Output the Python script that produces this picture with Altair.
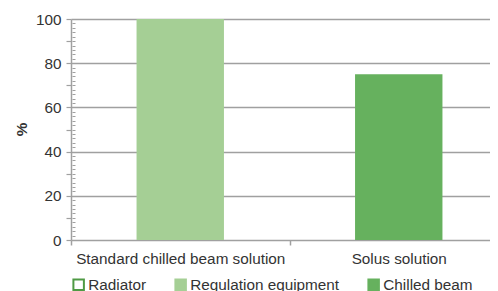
import altair as alt
import pandas as pd

categories = ["Standard chilled beam solution", "Solus solution"]
series = ["Radiator", "Regulation equipment", "Chilled beam"]
radiator = [0, 0]
regulation = [100, 0]
chilled = [0, 75]
y_major = list(range(0, 101, 10))
y_minor = list(range(0, 101, 2))

rows = []
for i, c in enumerate(categories):
    for s, vals in zip(series, [radiator, regulation, chilled]):
        rows.append({"cat": c, "series": s, "value": vals[i]})
df = pd.DataFrame(rows)

FONT = "Liberation Sans"
FS = 15.3
TXT = "#333333"
AXC = "#a0a0a0"

fill_scale = alt.Scale(domain=series, range=["#ffffff", "#a5cf95", "#66b15e"])
stroke_scale = alt.Scale(domain=series, range=["#4f9a45", "#a5cf95", "#66b15e"])

legend = alt.Legend(
    title=None, orient="none", legendX=0, legendY=258, direction="horizontal",
    columns=3, columnPadding=24, symbolType="square", symbolSize=110,
    symbolStrokeWidth=2, labelFont=FONT, labelFontSize=FS, labelColor=TXT,
    labelOffset=2, labelLimit=300,
)

bars = alt.Chart(df).mark_bar(width=alt.RelativeBandSize(0.4), strokeWidth=0).encode(
    x=alt.X("cat:N", sort=categories, title=None,
            scale=alt.Scale(paddingInner=0, paddingOuter=0, range=[0, 437]),
            axis=alt.Axis(labelAngle=0, labelFont=FONT, labelFontSize=FS, labelColor=TXT,
                          labelLimit=400,
                          tickBand="extent", domainColor=AXC, domainWidth=1.5, tickColor=AXC,
                          tickWidth=1.5, tickSize=5, labelPadding=6, grid=False)),
    y=alt.Y("value:Q", stack="zero", title="%",
            scale=alt.Scale(domain=[0, 100], nice=False),
            axis=alt.Axis(values=y_major,
                          labelExpr="datum.value % 20 == 0 ? datum.label : ''",
                          labelFont=FONT, labelFontSize=FS, labelColor=TXT, labelPadding=5,
                          tickSize=5, tickColor=AXC, tickWidth=1.2, domainColor=AXC, domainWidth=1.5,
                          gridColor=AXC, gridWidth=1.5,
                          gridOpacity={"condition": {"test": "datum.value % 20 == 0 && datum.value > 0", "value": 1}, "value": 0},
                          titleFont=FONT, titleFontSize=FS, titleColor=TXT, titleFontWeight="bold",
                          titleBaseline="middle", titleX=-50, titleY=110)),
    fill=alt.Fill("series:N", scale=fill_scale, sort=series, legend=legend),
    stroke=alt.Stroke("series:N", scale=stroke_scale, sort=series, legend=legend),
    order=alt.Order("series_order:Q"),
).transform_calculate(series_order="indexof(['Radiator','Regulation equipment','Chilled beam'], datum.series)")

minor = alt.Chart(pd.DataFrame({"v": y_minor})).mark_point(opacity=0).encode(
    y=alt.Y("v:Q", scale=alt.Scale(domain=[0, 100], nice=False), title=None,
            axis=alt.Axis(orient="left", values=y_minor, labels=False, domain=False, grid=False,
                          tickSize=3, tickColor=AXC, tickWidth=1, offset=-4)),
)

chart = alt.layer(bars, minor).resolve_axis(y="independent").properties(
    width=419, height=221,
    autosize=alt.AutoSizeParams(type="none"),
    padding={"left": 63, "top": 11, "right": 0, "bottom": 51},
).configure_view(stroke=None)

chart.save("out.html", embed_options={"renderer": "svg", "actions": False})
